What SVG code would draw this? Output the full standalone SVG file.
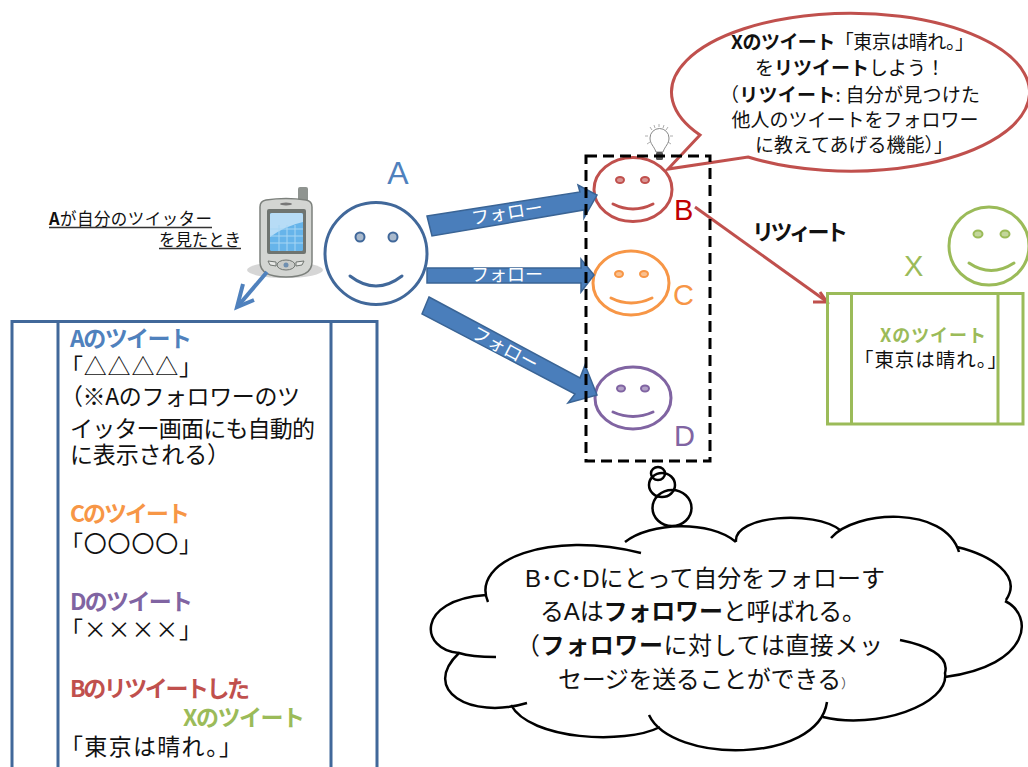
<svg xmlns="http://www.w3.org/2000/svg" width="1028" height="767" viewBox="0 0 1028 767">
<style>
text{font-family:"Noto Sans CJK JP","Liberation Sans",sans-serif;fill:#111}
.b{font-weight:700}
.lat{font-family:"Liberation Sans","Noto Sans CJK JP",sans-serif}
.p{font-size:23px}
.c{font-size:19px}
.t{font-size:24px}
.f{font-size:18px;fill:#fff}
.n{font-family:"Liberation Sans",sans-serif;font-size:29px}
.arrow{fill:#4a7ebb;stroke:#3a6495;stroke-width:1.5}
.face{fill:#fff;stroke-width:3}
.mouth{fill:none;stroke-width:3;stroke-linecap:round}
.blue{fill:#4f81bd}.orange{fill:#f79646}.purple{fill:#8064a2}.red{fill:#c0504d}.green{fill:#9bbb59}
</style>
<rect width="1028" height="767" fill="#fff"/>

<g id="timeline" fill="none" stroke="#41689a" stroke-width="3">
<path d="M12 767V321.500H377V767M58 321.500V767M331 321.500V767"/>
</g>
<g id="timeline-text">
<text class="p b blue" x="70" y="347" textLength="122">Aのツイート</text>
<text class="p" x="60" y="375" textLength="142">「△△△△」</text>
<text class="p" x="60" y="405" textLength="240">（※Aのフォロワーのツ</text>
<text class="p" x="70" y="437" textLength="245">イッター画面にも自動的</text>
<text class="p" x="70" y="463" textLength="160">に表示される）</text>
<text class="p b orange" x="70" y="522" textLength="120">Cのツイート</text>
<text class="p" x="60" y="552" textLength="142">「〇〇〇〇」</text>
<text class="p b purple" x="70" y="610" textLength="123">Dのツイート</text>
<text class="p" x="60" y="638" textLength="142">「××××」</text>
<text class="p b red" x="70" y="697" textLength="180">Bのリツイートした</text>
<text class="p b green" x="183" y="726" textLength="122">Xのツイート</text>
<text class="p" x="60" y="755" textLength="182">「東京は晴れ。」</text>
</g>

<g id="caption">
<text x="49" y="225" font-size="16.500" textLength="163"><tspan class="b">A</tspan>が自分のツイッター</text>
<path d="M49 227.500H212M159 248.500H241" stroke="#333" stroke-width="1.300"/>
<text x="159" y="246" font-size="16.500" textLength="82">を見たとき</text>
</g>

<g id="phone">
<ellipse cx="285" cy="270" rx="38" ry="8" fill="#bbb" opacity=".6"/>
<rect x="298" y="187" width="10" height="18" rx="2" fill="#8f9490"/>
<path d="M260 207Q260 201 266 200Q286 197 306 200Q312 201 312 207V262Q312 277 286 277Q260 277 260 262Z" fill="#d3d5d2" stroke="#7c807c" stroke-width="1.500"/>
<rect x="267" y="209" width="39" height="45" rx="2" fill="#6f7470"/>
<rect x="270" y="213" width="33" height="38" rx="1.500" fill="#66b4ea"/>
<path d="M270 237V214.500Q270 213 272 213H301Q303 213 303 215V222Q285 226 270 237Z" fill="#b7dcf6"/>
<g stroke="#a7d6f4" stroke-width="1"><path d="M270 229H303M270 236H303M270 243H303M279 225V251M287 225V251M295 225V251"/></g>
<path d="M268 261L276 262V266L270 265Z M304 261L296 262V266L302 265Z" fill="#e8e9e7" stroke="#6f7470"/>
<ellipse cx="286" cy="265" rx="9" ry="5" fill="#c9cbc8" stroke="#6f7470"/>
<circle cx="286" cy="265" r="2.500" fill="#6f8fb0"/>
<ellipse cx="286" cy="204" rx="6" ry="1.500" fill="#777"/>
</g>

<g id="node-A">
<circle class="face" cx="376" cy="253.500" r="51" stroke="#41689a"/>
<circle cx="360" cy="237" r="4.500" fill="#a9b9cc" stroke="#41689a" stroke-width="2"/>
<circle cx="393" cy="237" r="4.500" fill="#a9b9cc" stroke="#41689a" stroke-width="2"/>
<path class="mouth" d="M350 276Q376 296 402 276" stroke="#41689a"/>
<text class="n blue" x="398" y="184" text-anchor="middle" style="font-size:32px">A</text>
</g>

<g id="callout">
<path d="M700 135A179 79 0 1 1 748 157L668 169Z" fill="#fff" stroke="#c0504d" stroke-width="3"/>
<text class="c" x="731" y="49" textLength="243"><tspan class="b">Xのツイート</tspan>「東京は晴れ。」</text>
<text class="c" x="850" y="75" text-anchor="middle">を<tspan class="b">リツイート</tspan>しよう！</text>
<text class="c" x="720" y="102" textLength="260">（<tspan class="b">リツイート</tspan>: 自分が見つけた</text>
<text class="c" x="855" y="127" text-anchor="middle">他人のツイートをフォロワー</text>
<text class="c" x="854" y="152" text-anchor="middle">に教えてあげる機能）」</text>
</g>

<g id="bulb">
<g stroke="#999" stroke-width=".8"><path d="M659 124V127M650 127L652 130M668 127L666 130M645 136H648M670 136H673M647 144L650 142M671 144L668 142M654 125L655 128M664 125L663 128"/></g>
<path d="M656 152C654 146 650 144 650 138A9.500 9.500 0 0 1 669 138C669 144 665 146 663 152Z" fill="#fff" stroke="#888" stroke-width="1"/>
<rect x="656" y="152" width="7" height="8" rx="1.500" fill="#555"/>
</g>

<g id="node-B">
<ellipse class="face" cx="633" cy="189.500" rx="39" ry="32" stroke="#c0504d"/>
<ellipse cx="620" cy="180" rx="4" ry="3" fill="#d99694" stroke="#c0504d" stroke-width="2"/>
<ellipse cx="645" cy="180" rx="4" ry="3" fill="#d99694" stroke="#c0504d" stroke-width="2"/>
<path class="mouth" d="M613 204Q633 214 653 204" stroke="#c0504d"/>
<text class="n" style="fill:#c00000" x="674" y="220">B</text>
</g>
<g id="node-C">
<ellipse class="face" cx="631" cy="283" rx="38" ry="32" stroke="#f79646"/>
<ellipse cx="619" cy="274" rx="4" ry="3" fill="#fac08f" stroke="#f79646" stroke-width="2"/>
<ellipse cx="644" cy="274" rx="4" ry="3" fill="#fac08f" stroke="#f79646" stroke-width="2"/>
<path class="mouth" d="M611 298Q631 308 652 298" stroke="#f79646"/>
<text class="n orange" x="673" y="305">C</text>
</g>
<g id="node-D">
<ellipse class="face" cx="633" cy="398" rx="38" ry="31" stroke="#8064a2"/>
<ellipse cx="621" cy="388.500" rx="4" ry="3" fill="#b2a1c7" stroke="#8064a2" stroke-width="2"/>
<ellipse cx="645" cy="388.500" rx="4" ry="3" fill="#b2a1c7" stroke="#8064a2" stroke-width="2"/>
<path class="mouth" d="M613 412Q633 421 653 412" stroke="#8064a2"/>
<text class="n purple" x="674" y="446">D</text>
</g>

<g id="connectors">
<polygon class="arrow" points="427,216 580,192 578,185 597,195 584,218 584,210 432,236"/>
<polygon class="arrow" points="427,268 581,268 581,259 594,275 581,292 581,283 427,283"/>
<polygon class="arrow" points="429,297 580,378 585,365 597,395 568,403 575,394 422,314"/>
<text class="f" transform="translate(508,219) rotate(-9)" text-anchor="middle">フォロー</text>
<text class="f" x="507" y="281" text-anchor="middle">フォロー</text>
<text class="f" transform="translate(502,354) rotate(28)" text-anchor="middle">フォロー</text>
<path d="M267 272L238 306" stroke="#4f81bd" stroke-width="4" fill="none"/>
<path d="M243 284L237 307L254 300" stroke="#4f81bd" stroke-width="4" fill="none"/>
<path d="M695 207L826 301" stroke="#c0504d" stroke-width="3" fill="none"/>
<path d="M820 292L827 302L813 302" stroke="#c0504d" stroke-width="3" fill="none"/>
</g>

<rect id="group-box" x="586" y="156" width="124" height="305" fill="none" stroke="#000" stroke-width="3" stroke-dasharray="11 6"/>

<g id="node-X">
<ellipse class="face" cx="989" cy="246" rx="40" ry="39" stroke="#9bbb59"/>
<ellipse cx="978" cy="234" rx="4.500" ry="3.500" fill="#c3d69b" stroke="#9bbb59" stroke-width="2"/>
<ellipse cx="1005" cy="234" rx="4.500" ry="3.500" fill="#c3d69b" stroke="#9bbb59" stroke-width="2"/>
<path class="mouth" d="M969 263Q991 278 1014 263" stroke="#9bbb59"/>
<text class="n green" x="904" y="276">X</text>
<path d="M827.500 293.500H1023V424H827.500ZM851.500 293.500V424M998 293.500V424" fill="none" stroke="#9bbb59" stroke-width="3"/>
<text class="green b" font-size="18" x="880" y="342" textLength="106">Xのツイート</text>
<text font-size="19.500" x="854" y="367" textLength="153">「東京は晴れ。」</text>
</g>
<text id="retweet-label" class="b" font-size="22" x="752" y="240" textLength="96">リツィート</text>

<g id="thought" fill="none" stroke="#000" stroke-width="2.500">
<ellipse cx="672" cy="508" rx="19.500" ry="18"/>
<ellipse cx="662" cy="485" rx="13" ry="12"/>
<ellipse cx="658" cy="473.500" rx="7" ry="6.500"/>
<path d="M625 542C650 522 710 520 736 542C755 515 815 510 840 530C880 510 945 515 959 552C990 555 1020 575 1005 600C1030 615 1030 665 945 677C950 705 875 730 823 717C795 762 680 762 649 715C625 745 530 740 511 705C470 720 425 690 459 653C420 650 415 600 486 595C480 560 530 530 625 542Z" fill="#fff" stroke="none"/>
<path d="M625 542C650 522 710 520 736 542M736 542C733 515 815 510 840 530M831 538C855 510 945 505 959 552M957 547C990 555 1023 575 1006 600M1005 601C1034 615 1032 665 945 677M900 640C925 645 950 655 945 673C950 705 875 730 823 717M827 702C818 764 672 764 649 715M660 727C625 745 530 740 511 705M527 703C470 720 420 690 459 653C465 655 480 657 496 657M459 653C420 650 415 600 486 595M488 602C470 560 550 530 641 553"/>
</g>
<g id="thought-text">
<text class="t" x="525" y="587" textLength="360"><tspan class="lat">B</tspan>･<tspan class="lat">C</tspan>･<tspan class="lat">D</tspan>にとって自分をフォローす</text>
<text class="t" x="540" y="620" textLength="326">る<tspan class="lat">A</tspan>は<tspan class="b">フォロワー</tspan>と呼ばれる。</text>
<text class="t" x="516" y="654" textLength="367">（<tspan class="b">フォロワー</tspan>に対しては直接メッ</text>
<text class="t" x="558" y="688" textLength="296">セージを送ることができる<tspan font-size="13" fill="#555">）</tspan></text>
</g>
</svg>
